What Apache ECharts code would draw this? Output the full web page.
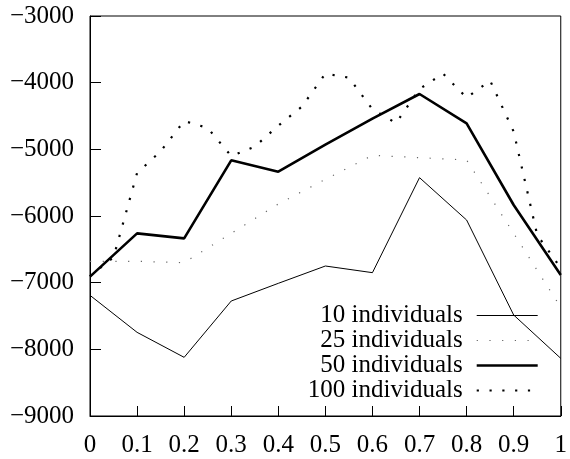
<!DOCTYPE html>
<html>
<head>
<meta charset="utf-8">
<script src="https://cdn.jsdelivr.net/npm/echarts@6/dist/echarts.min.js"></script>
<style>
  html, body { margin: 0; padding: 0; background: #fff; }
  #main { width: 570px; height: 459px; }
</style>
</head>
<body>
<div id="main"></div>
<script>
// x positions (population ratio) and mean fitness per population size
const xs = [0, 0.1, 0.2, 0.3, 0.4, 0.5, 0.6, 0.7, 0.8, 0.9, 1];
const ind10 = [-7190, -7745, -8120, -7275, -7010, -6750, -6850, -5425, -6060, -7485, -8135];
const ind25 = [-6680, -6680, -6700, -6260, -5820, -5450, -5090, -5125, -5160, -6260, -7370];
const ind50 = [-6910, -6260, -6335, -5165, -5335, -4930, -4540, -4170, -4610, -5835, -6885];
// the 100 run was sampled twice as often
const xs100 = [0, 0.05, 0.1, 0.15, 0.2, 0.25, 0.3, 0.35, 0.4, 0.45, 0.5,
               0.55, 0.6, 0.65, 0.7, 0.75, 0.8, 0.85, 0.9, 0.95, 1];
const ind100 = [-6900, -6620, -5355, -5030, -4575, -4680, -5100, -4960, -4645, -4360, -3865,
                -3925, -4400, -4605, -4095, -3865, -4225, -3970, -4735, -6285, -6780];
const names = ['10 individuals', '25 individuals', '50 individuals', '100 individuals'];

const font = '"Liberation Serif", "DejaVu Serif", serif';

function pairs(x, y) {
  return x.map((v, i) => [v, y[i]]);
}

let myChart = echarts.init(document.getElementById('main'));
let option = {
  animation: false,
  backgroundColor: '#fff',
  grid: {
    left: 90, right: 4, top: 16, bottom: 43,
    show: true, borderColor: '#000', borderWidth: 1
  },
  legend: {
    orient: 'vertical',
    right: 31,
    top: 303,
    padding: 0,
    align: 'right',
    itemWidth: 61,
    itemHeight: 14,
    itemGap: 0,
    data: names,
    itemStyle: { opacity: 0 },
    lineStyle: { width: 'inherit' },
    textStyle: {
      fontFamily: font,
      fontSize: 25,
      color: '#000',
      padding: [0, 9, 0, 0]
    }
  },
  xAxis: {
    type: 'value',
    min: 0, max: 1, interval: 0.1,
    axisLine: { lineStyle: { color: '#000', width: 1 } },
    axisTick: { inside: true, length: 10, lineStyle: { color: '#000' } },
    axisLabel: { fontFamily: font, fontSize: 25, color: '#000', margin: 17 },
    splitLine: { show: false }
  },
  yAxis: {
    type: 'value',
    min: -9000, max: -3000, interval: 1000,
    axisLine: { show: true, lineStyle: { color: '#000', width: 1 } },
    axisTick: { show: true, inside: true, length: 11, lineStyle: { color: '#000' } },
    axisLabel: {
      fontFamily: font, fontSize: 25, color: '#000', margin: 16,
      formatter: v => String(v).replace('-', '\u2212')
    },
    splitLine: { show: false }
  },
  series: [
    {
      name: names[0], type: 'line', symbol: 'none',
      data: pairs(xs, ind10),
      itemStyle: { color: '#000' },
      lineStyle: { color: '#000', width: 1 }
    },
    {
      name: names[1], type: 'line', symbol: 'none',
      data: pairs(xs, ind25),
      itemStyle: { color: '#666' },
      lineStyle: { color: '#666', width: 1.2, type: [1.2, 11.5] }
    },
    {
      name: names[2], type: 'line', symbol: 'none',
      data: pairs(xs, ind50),
      itemStyle: { color: '#000' },
      lineStyle: { color: '#000', width: 2.6 }
    },
    {
      name: names[3], type: 'line', symbol: 'none',
      data: pairs(xs100, ind100),
      itemStyle: { color: '#000' },
      lineStyle: { color: '#000', width: 2.2, type: [2.2, 10.6] }
    }
  ]
};

option && myChart.setOption(option);
</script>
</body>
</html>
